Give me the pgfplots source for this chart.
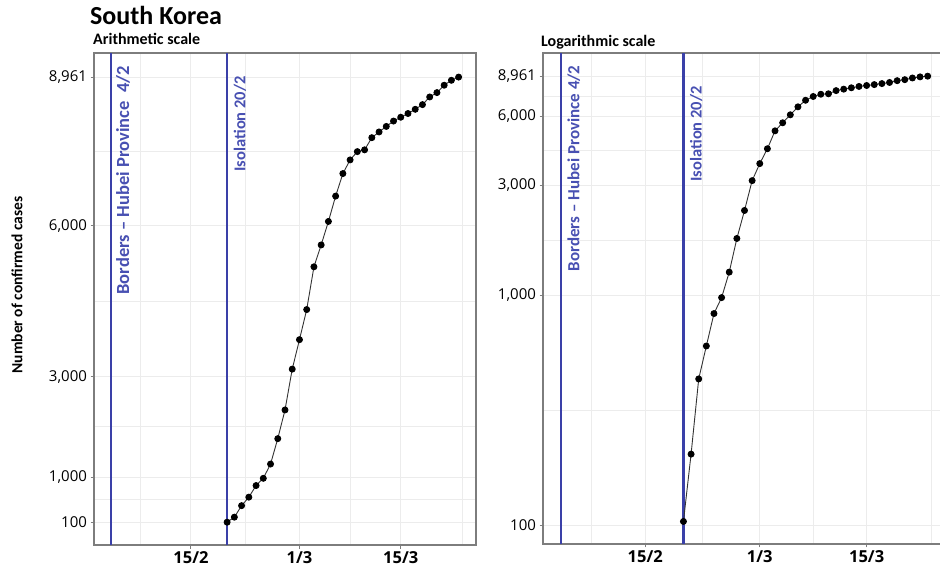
\documentclass[border=0pt]{standalone}
\usepackage{pgfplots}
\pgfplotsset{compat=1.18}
\usepackage{pgfplotstable}
\usepackage{fontspec}
\setmainfont{Carlito}
\newfontfamily\tickfont{Open Sans}
\definecolor{bordblue}{RGB}{58,64,168}
\definecolor{vtext}{RGB}{72,80,178}
\definecolor{axgray}{RGB}{125,125,125}
\definecolor{gridc}{RGB}{236,236,236}

\pgfplotstableread{
x y
51 104
52 204
53 433
54 602
55 833
56 977
57 1261
58 1766
59 2337
60 3150
61 3736
62 4335
63 5186
64 5621
65 6088
66 6593
67 7041
68 7313
69 7478
70 7513
71 7755
72 7869
73 7979
74 8086
75 8162
76 8236
77 8320
78 8413
79 8565
80 8652
81 8799
82 8897
83 8961
}\korea

\pgfplotsset{panel/.style={
  scale only axis, anchor=south west,
  xmin=32.6, xmax=85.4,
  xtick={46,61,75}, xticklabels={15/2,1/3,15/3},
  minor xtick={39,53.5,68,83.5},
  ytick={100,1000,3000,6000,8961},
  yticklabels={100,{1,000},{3,000},{6,000},{8,961}},
  grid=both,
  major grid style={gridc, line width=1pt},
  minor grid style={gridc, line width=1pt},
  axis line style={axgray, line width=1.3pt},
  tick style={axgray, line width=0.9pt},
  major tick length=3.5pt, minor tick length=0pt,
  tick align=outside, tick pos=left,
  xticklabel style={font=\tickfont\bfseries\fontsize{16.5}{18}\selectfont, text=black},
  yticklabel style={font=\tickfont\fontsize{15}{16}\selectfont, text=black},
  clip=false,
}}
\tikzset{series/.style={draw=black!80, line width=0.9pt, mark=*, mark size=3pt, mark options={fill=black, draw=black, solid}},
  evline/.style={color=bordblue, line width=2.2pt, mark=none}}

\begin{document}
\begin{tikzpicture}
\path[use as bounding box] (0pt,0pt) rectangle (940pt,-572pt);

\node[anchor=base west, inner sep=0pt, font=\bfseries\fontsize{26}{30}\selectfont] at (90pt,-25pt) {South Korea};
\node[anchor=base west, inner sep=0pt, font=\bfseries\fontsize{16}{18}\selectfont] at (93pt,-45pt) {Arithmetic scale};
\node[anchor=base west, inner sep=0pt, font=\bfseries\fontsize{16}{18}\selectfont] at (541pt,-47pt) {Logarithmic scale};
\node[rotate=90, inner sep=0pt, font=\bfseries\fontsize{15.5}{17}\selectfont] at (17pt,-285pt) {Number of confirmed cases};

\begin{axis}[panel, at={(94pt,-545pt)}, width=382pt, height=492pt,
  ymin=-350, ymax=9440,
  minor ytick={550,2000,4500,7480.5}]
\addplot[evline] coordinates {(35,-350) (35,9440)};
\addplot[evline] coordinates {(51,-350) (51,9440)};
\addplot[series] table[x=x, y=y] {\korea};
\node[rotate=90, anchor=north east, inner sep=0pt, text=vtext, font=\bfseries\fontsize{18.5}{20}\selectfont] at ([xshift=4.5pt]axis cs:35,9180) {Borders -- Hubei Province\ \ 4/2};
\node[rotate=90, anchor=north east, inner sep=0pt, text=vtext, font=\bfseries\fontsize{16.5}{19}\selectfont] at ([xshift=6.5pt]axis cs:51,8980) {Isolation 20/2};
\end{axis}

\begin{axis}[panel, ymode=log, at={(543pt,-544pt)}, width=403pt, height=491pt,
  ymin=83, ymax=11300,
  minor ytick={316.2,1732,4243,7333}]
\addplot[evline] coordinates {(35,83) (35,11300)};
\addplot[evline] coordinates {(51,83) (51,11300)};
\addplot[series] table[x=x, y=y] {\korea};
\node[rotate=90, anchor=north east, inner sep=0pt, text=vtext, font=\bfseries\fontsize{17}{19}\selectfont] at ([xshift=6pt]axis cs:35,10000) {Borders -- Hubei Province 4/2};
\node[rotate=90, anchor=north east, inner sep=0pt, text=vtext, font=\bfseries\fontsize{16.5}{19}\selectfont] at ([xshift=6.5pt]axis cs:51,8110) {Isolation 20/2};
\end{axis}
\end{tikzpicture}
\end{document}
